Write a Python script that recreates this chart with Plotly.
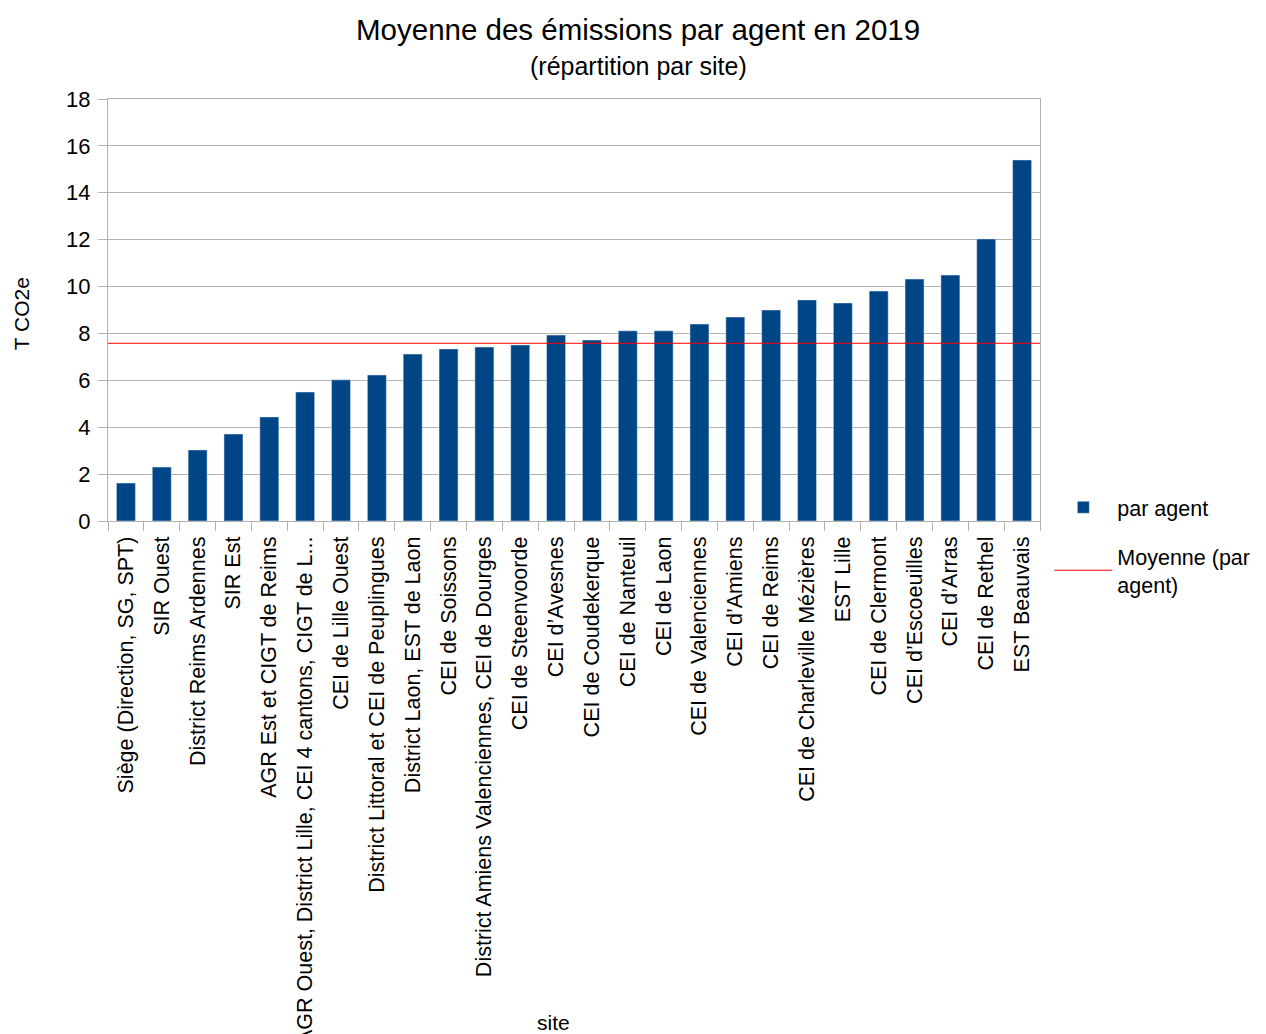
import plotly.graph_objects as go

# Données
sites = [
    "Siège (Direction, SG, SPT)", "SIR Ouest", "District Reims Ardennes", "SIR Est",
    "AGR Est et CIGT de Reims", "AGR Ouest, District Lille, CEI 4 cantons, CIGT de L...",
    "CEI de Lille Ouest", "District Littoral et CEI de Peuplingues", "District Laon, EST de Laon",
    "CEI de Soissons", "District Amiens Valenciennes, CEI de Dourges", "CEI de Steenvoorde",
    "CEI d’Avesnes", "CEI de Coudekerque", "CEI de Nanteuil", "CEI de Laon",
    "CEI de Valenciennes", "CEI d’Amiens", "CEI de Reims", "CEI de Charleville Mézières",
    "EST Lille", "CEI de Clermont", "CEI d’Escoeuilles", "CEI d’Arras", "CEI de Rethel",
    "EST Beauvais",
]
par_agent = [1.62, 2.30, 3.03, 3.71, 4.44, 5.50, 6.02, 6.23, 7.12, 7.34, 7.42, 7.51, 7.93,
             7.72, 8.11, 8.11, 8.40, 8.70, 9.00, 9.43, 9.30, 9.81, 10.32, 10.49, 12.03, 15.40]
moyenne = 7.58

FONT = "Liberation Sans, Arial, sans-serif"

fig = go.Figure()
fig.add_trace(go.Bar(x=sites, y=par_agent, name="par agent", marker_color="#004586",
                     legendgroup="a"))

# ligne de la moyenne sur toute la largeur
fig.add_shape(type="line", xref="paper", x0=0, x1=1, yref="y", y0=moyenne, y1=moyenne,
              line=dict(color="#ff0000", width=1), showlegend=True, legendgroup="b",
              name="Moyenne (par<br>agent)")

# la page a une marge de 8 px : figure un peu plus petite
fig.update_layout(
    width=1258, height=1026,
    margin=dict(l=100, r=226, t=91, b=513, autoexpand=False),
    plot_bgcolor="white", paper_bgcolor="white",
    font=dict(family=FONT, color="black"),
    bargap=0.47,
    showlegend=True,
    legend=dict(x=1.010, y=0.081, xanchor="left", yanchor="top",
                font=dict(size=21.5, family=FONT), traceorder="grouped",
                tracegroupgap=18, itemwidth=58),
    annotations=[
        dict(text="Moyenne des émissions par agent en 2019", xref="paper", yref="paper",
             x=0.5687, y=1.0, yshift=70, showarrow=False, font=dict(size=29.5),
             xanchor="center", yanchor="middle"),
        dict(text="(répartition par site)", xref="paper", yref="paper",
             x=0.5687, y=1.0, yshift=33, showarrow=False, font=dict(size=25),
             xanchor="center", yanchor="middle"),
        dict(text="T CO2e", xref="paper", yref="paper", x=0, xshift=-87, y=0.49,
             showarrow=False, textangle=-90, font=dict(size=21),
             xanchor="center", yanchor="middle"),
        dict(text="site", xref="paper", yref="paper", x=0.4775, y=0, yshift=-501,
             showarrow=False, font=dict(size=21), xanchor="center", yanchor="middle"),
    ],
)

fig.update_yaxes(range=[0, 18], dtick=2, showgrid=True, gridcolor="#b3b3b3",
                 showline=True, linecolor="#b3b3b3", mirror=True, zeroline=False,
                 ticks="outside", ticklen=9, tickcolor="#b3b3b3", ticklabelstandoff=3,
                 tickfont=dict(size=22), automargin=False)
fig.update_xaxes(tickangle=-90, showline=True, linecolor="#b3b3b3", mirror=True,
                 ticks="outside", ticklen=9, tickcolor="#b3b3b3", tickson="boundaries",
                 ticklabelstandoff=6, tickfont=dict(size=21.5), automargin=False)

fig.write_html("out.html")
